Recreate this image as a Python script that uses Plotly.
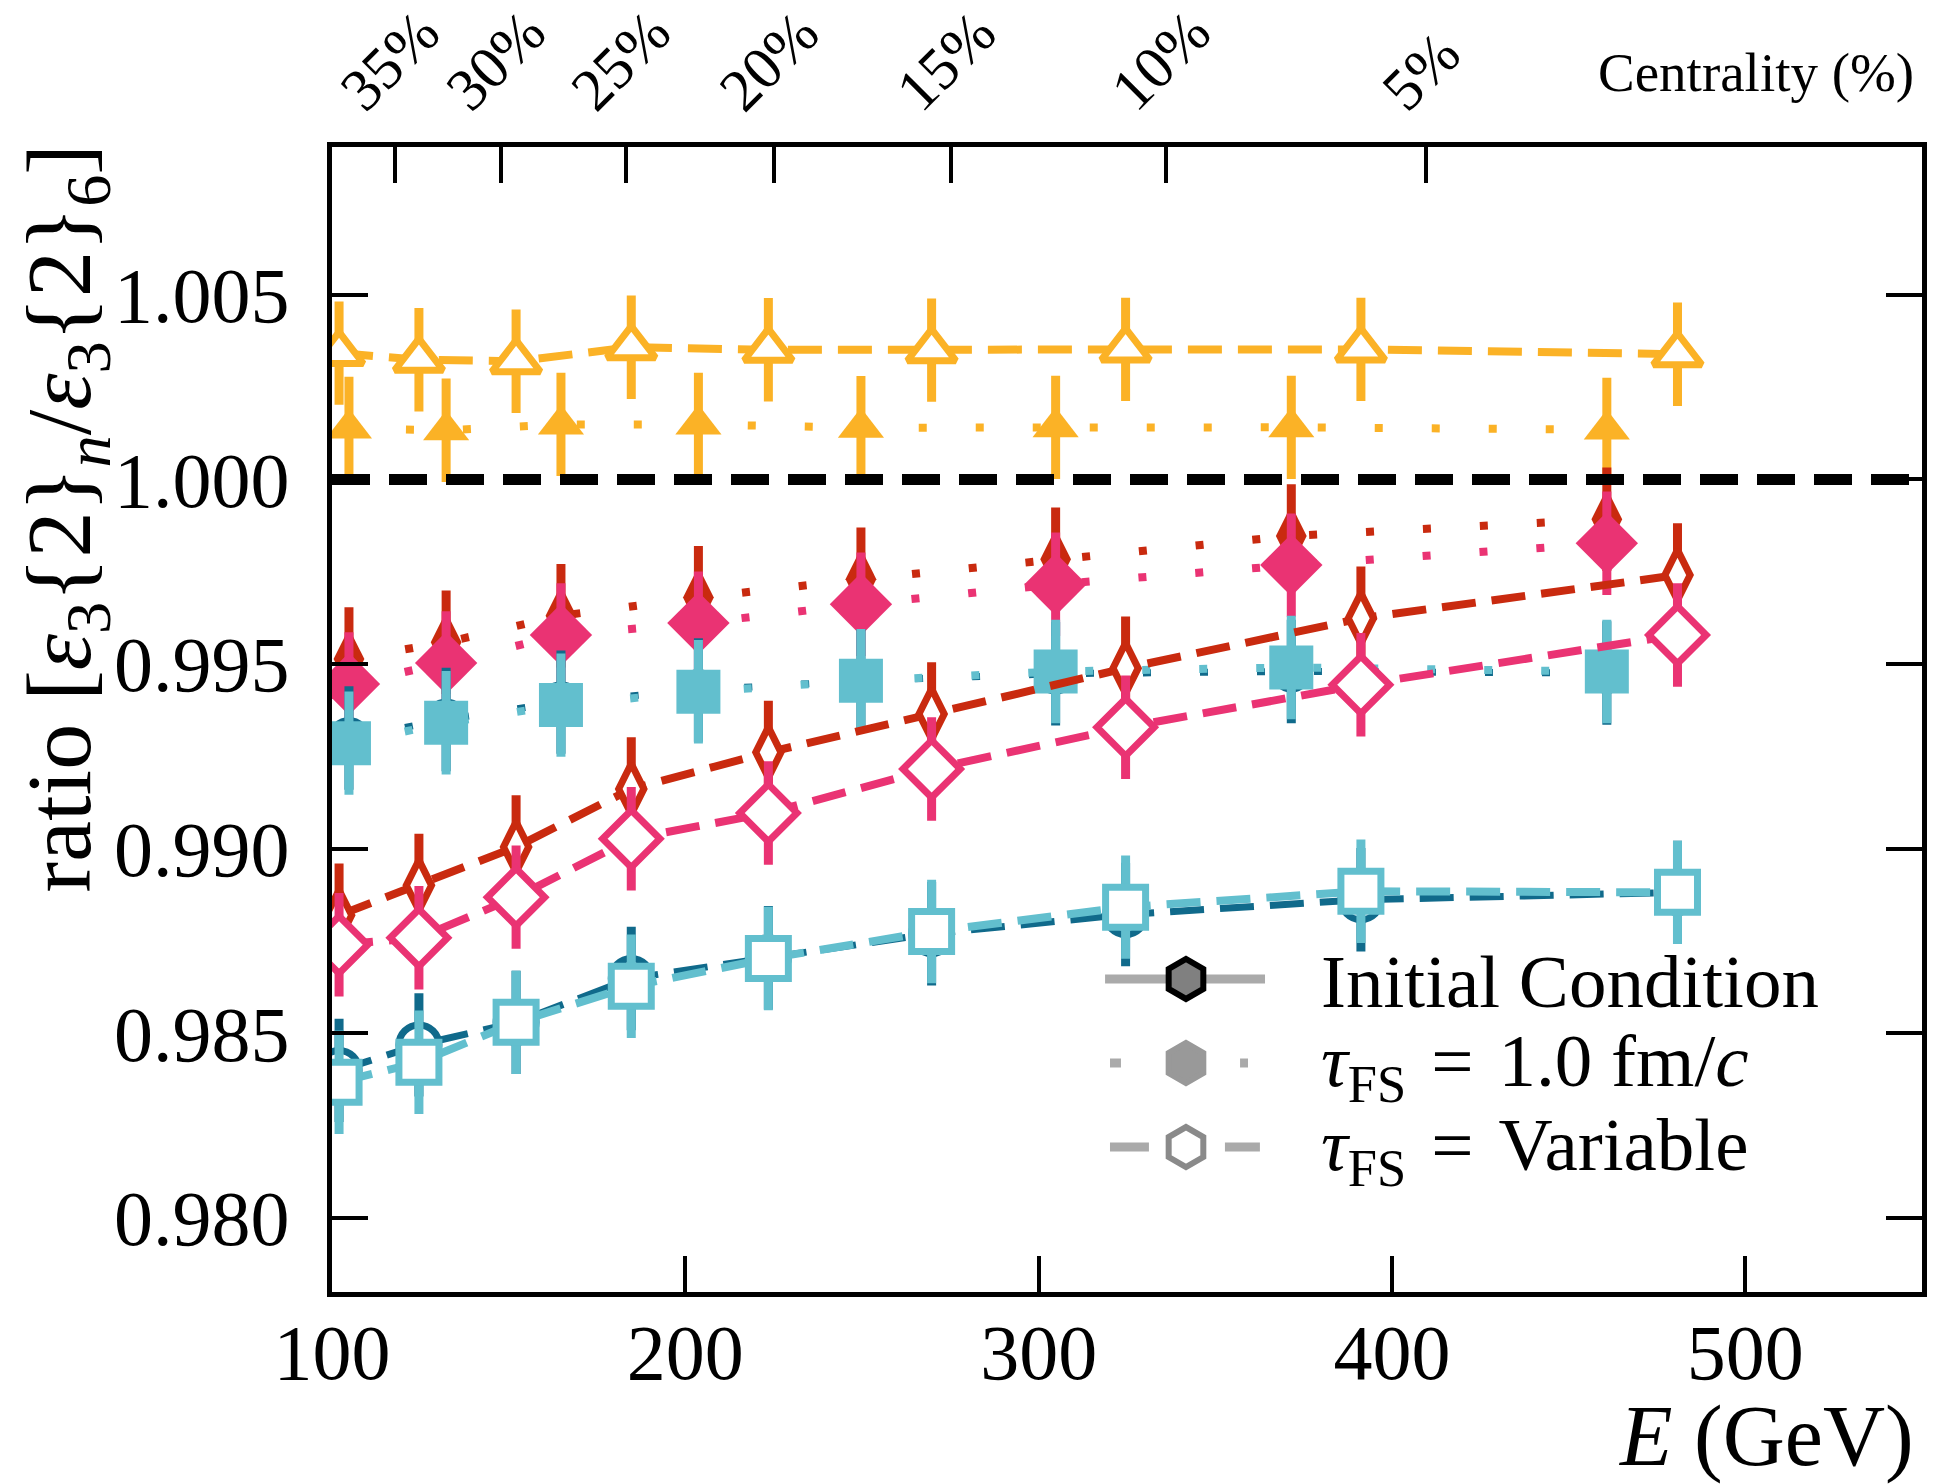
import plotly.graph_objects as go

# ---- data -------------------------------------------------------------
# energies (GeV) of the centrality bins for each free-streaming setup
E_VAR = [102.0, 124.6, 152.1, 184.7, 223.5, 269.7, 324.6, 391.2, 480.8]
E_FS1 = [104.8, 132.3, 164.8, 203.7, 249.7, 304.8, 371.5, 460.8]

# tau_FS = Variable (dashed, open markers)
ORANGE_VAR = [1.00342, 1.00324, 1.00320, 1.00358, 1.00351, 1.00350, 1.00352, 1.00352, 1.00339]
RED_VAR = [0.98820, 0.98901, 0.99005, 0.99162, 0.99261, 0.99365, 0.99489, 0.99624, 0.99741]
PINK_VAR = [0.98740, 0.98759, 0.98869, 0.99027, 0.99097, 0.99216, 0.99329, 0.99444, 0.99579]
TEAL_VAR = [0.98400, 0.98469, 0.98530, 0.98649, 0.98705, 0.98770, 0.98822, 0.98862, 0.98882]
CYAN_VAR = [0.98368, 0.98422, 0.98530, 0.98628, 0.98703, 0.98776, 0.98842, 0.98885, 0.98882]

# tau_FS = 1.0 fm/c (dotted, filled markers)
ORANGE_FS1 = [1.00138, 1.00133, 1.00149, 1.00149, 1.00140, 1.00141, 1.00141, 1.00135]
RED_FS1 = [0.99514, 0.99559, 0.99631, 0.99680, 0.99730, 0.99784, 0.99847, 0.99892]
PINK_FS1 = [0.99446, 0.99503, 0.99579, 0.99611, 0.99662, 0.99716, 0.99768, 0.99827]
TEAL_FS1 = [0.99300, 0.99350, 0.99397, 0.99430, 0.99455, 0.99474, 0.99480, 0.99476]
CYAN_FS1 = [0.99286, 0.99341, 0.99389, 0.99425, 0.99455, 0.99480, 0.99491, 0.99480]

# statistical uncertainty on every ratio
ERR_VAR = [0.0014] * len(E_VAR)
ERR_FS1 = [0.0014] * len(E_FS1)

# top axis: centrality classes placed at their energies
CENT_E = [117.8, 147.7, 183.1, 225.2, 275.3, 335.9, 409.5]
CENT_LABELS = ["35%", "30%", "25%", "20%", "15%", "10%", "5%"]

Y_TICKS = [0.980, 0.985, 0.990, 0.995, 1.000, 1.005]
X_TICKS = [100, 200, 300, 400, 500]

# ---- style --------------------------------------------------------------
ORANGE = "#FBB226"
RED = "#C92A0F"
PINK = "#EA3373"
TEAL = "#106A8B"
CYAN = "#62BFCE"
FONT = "Liberation Serif"
DOT = "8px,49px"
DASH = "34px,16px"
EQ = "\u2004=\u2004"

fig = go.Figure()


def series(x, y, err, color, symbol, size, dash, open_marker, lw=8):
    marker = dict(symbol=symbol, size=size, color="white" if open_marker else color,
                  line=dict(color=color, width=7 if open_marker else 0))
    fig.add_trace(go.Scatter(
        x=x, y=y, mode="lines+markers",
        line=dict(color=color, width=lw, dash=dash),
        marker=marker,
        error_y=dict(type="data", array=err, color=color, thickness=9, width=0),
        showlegend=False, hoverinfo="skip", cliponaxis=True,
    ))


series(E_VAR, ORANGE_VAR, ERR_VAR, ORANGE, "triangle-up", 42, DASH, True)
series(E_FS1, ORANGE_FS1, ERR_FS1, ORANGE, "triangle-up", 40, DOT, False)
series(E_FS1, RED_FS1, ERR_FS1, RED, "diamond-tall", 44, DOT, False)
series(E_FS1, PINK_FS1, ERR_FS1, PINK, "diamond", 48, DOT, False)
series(E_FS1, TEAL_FS1, ERR_FS1, TEAL, "circle", 42, DOT, False, lw=7)
series(E_FS1, CYAN_FS1, ERR_FS1, CYAN, "square", 44, DOT, False)
series(E_VAR, RED_VAR, ERR_VAR, RED, "diamond-tall", 36, DASH, True)
series(E_VAR, PINK_VAR, ERR_VAR, PINK, "diamond", 44, DASH, True)
series(E_VAR, TEAL_VAR, ERR_VAR, TEAL, "circle", 40, DASH, True, lw=7)
series(E_VAR, CYAN_VAR, ERR_VAR, CYAN, "square", 40, DASH, True)

# carrier for the centrality axis on top
fig.add_trace(go.Scatter(x=CENT_E, y=[1.0] * len(CENT_E), xaxis="x2", mode="none",
                         showlegend=False, hoverinfo="skip"))

# unity reference line
fig.add_shape(type="line", xref="x domain", x0=0, x1=1, yref="y", y0=1.0, y1=1.0,
              line=dict(color="black", width=11, dash="38px,19px"), layer="above")

# ---- hand-drawn legend (on an overlay axis spanning the plot area) ------
LEG_GRAY = "#AAAAAA"
leg_rows = [
    dict(y=0.2734, segs=[(0.4862, 0.5868)], fill="#808080", edge="black",
         text="Initial Condition", ty=0.2716),
    dict(y=0.2000, segs=[(0.4893, 0.4962), (0.5711, 0.5761)], fill="#999999", edge="#999999",
         text="<i>τ</i><sub>FS</sub>" + EQ + "1.0 fm/<i>c</i>", ty=0.1974),
    dict(y=0.1266, segs=[(0.4893, 0.5138), (0.5616, 0.5836)], fill="white", edge="#8A8A8A",
         text="<i>τ</i><sub>FS</sub>" + EQ + "Variable", ty=0.1240),
]
for row in leg_rows:
    xs, ys = [], []
    for a, b in row["segs"]:
        xs += [a, b, None]
        ys += [row["y"], row["y"], None]
    fig.add_trace(go.Scatter(x=xs, y=ys, xaxis="x3", yaxis="y3", mode="lines",
                             line=dict(color=LEG_GRAY, width=9), showlegend=False, hoverinfo="skip"))
    fig.add_trace(go.Scatter(x=[0.5371], y=[row["y"]], xaxis="x3", yaxis="y3", mode="markers",
                             marker=dict(symbol="hexagon", size=40, color=row["fill"],
                                         line=dict(color=row["edge"], width=6)),
                             showlegend=False, hoverinfo="skip"))
    fig.add_annotation(x=0.6208, y=row["ty"], xref="x3", yref="y3", text=row["text"],
                       showarrow=False, xanchor="left", yanchor="middle",
                       font=dict(family=FONT, size=75, color="black"))

# ---- axes ----------------------------------------------------------------
axis_common = dict(showgrid=False, zeroline=False, ticks="inside", ticklen=36, tickwidth=4,
                   tickcolor="black", linecolor="black", linewidth=5,
                   tickfont=dict(family=FONT, size=78, color="black"))

fig.update_layout(
    width=1947, height=1484,
    margin=dict(l=332, r=25, t=147, b=192),
    paper_bgcolor="white", plot_bgcolor="white",
    showlegend=False,
    xaxis=dict(range=[100, 550], tickvals=X_TICKS, ticktext=[str(v) for v in X_TICKS],
               showline=True, mirror=True, ticklabelstandoff=-12, **axis_common),
    xaxis2=dict(range=[100, 550], overlaying="x", side="top", tickvals=CENT_E,
                showticklabels=False, showline=False, showgrid=False, zeroline=False,
                ticks="inside", ticklen=36, tickwidth=4, tickcolor="black"),
    yaxis=dict(range=[0.978, 1.009], tickvals=Y_TICKS, tickformat=".3f",
               showline=True, mirror="ticks", ticklabelstandoff=22, **axis_common),
    xaxis3=dict(range=[0, 1], overlaying="x", visible=False),
    yaxis3=dict(range=[0, 1], overlaying="y", visible=False),
)

# centrality labels above the top axis
for e, lab in zip(CENT_E, CENT_LABELS):
    fig.add_annotation(x=e, y=1.0182, xref="x", yref="paper", text=lab, showarrow=False,
                       textangle=-45, xanchor="center", yanchor="bottom", xshift=-5,
                       font=dict(family=FONT, size=60, color="black"))

fig.add_annotation(x=1, y=1.0655, xref="paper", yref="paper", text="Centrality (%)",
                   showarrow=False, xanchor="right", yanchor="middle", xshift=-6,
                   font=dict(family=FONT, size=55, color="black"))

# axis titles
fig.add_annotation(x=1, y=-0.126, xref="paper", yref="paper", text="<i>E</i> (GeV)",
                   showarrow=False, xanchor="right", yanchor="middle", xshift=-6,
                   font=dict(family=FONT, size=86, color="black"))
fig.add_annotation(x=-0.167, y=0.676, xref="paper", yref="paper",
                   text="ratio [<i>ε</i><sub>3</sub>{2}<sub><i>n</i></sub>/<i>ε</i><sub>3</sub>{2}<sub>6</sub>]",
                   showarrow=False, textangle=-90, xanchor="center", yanchor="middle",
                   font=dict(family=FONT, size=92, color="black"))

fig.write_html("out.html")
